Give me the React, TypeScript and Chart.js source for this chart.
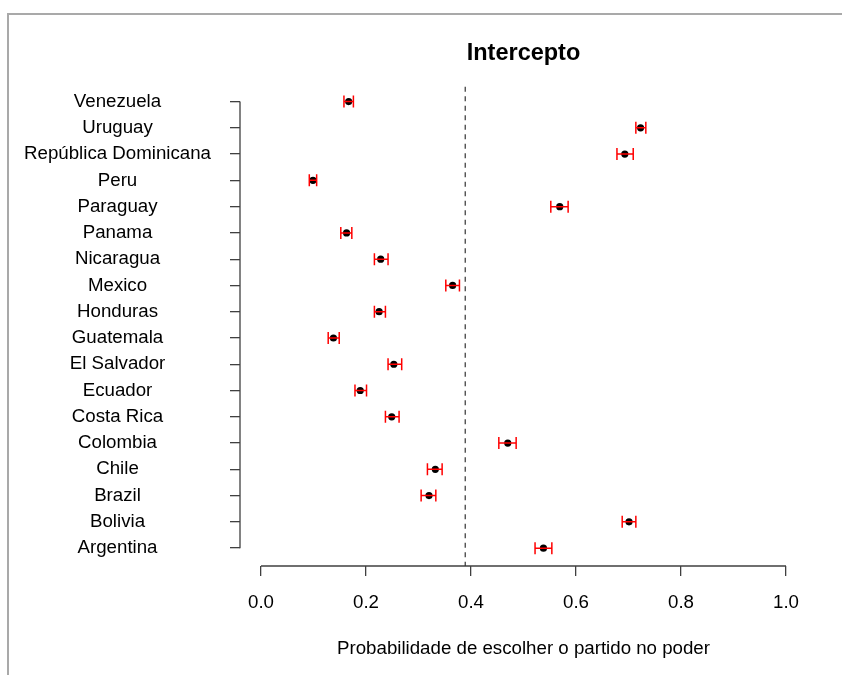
import { useEffect, useRef } from "react";
import { Chart, registerables } from "chart.js";

Chart.register(...registerables);

// Countries, listed from the top row to the bottom row
const countries = [
  "Venezuela",
  "Uruguay",
  "República Dominicana",
  "Peru",
  "Paraguay",
  "Panama",
  "Nicaragua",
  "Mexico",
  "Honduras",
  "Guatemala",
  "El Salvador",
  "Ecuador",
  "Costa Rica",
  "Colombia",
  "Chile",
  "Brazil",
  "Bolivia",
  "Argentina",
];

// Point estimates of the intercept probability
const estimates = [
  0.167, 0.723, 0.693, 0.099, 0.569, 0.163, 0.228, 0.365, 0.225, 0.138, 0.253,
  0.189, 0.249, 0.47, 0.332, 0.32, 0.701, 0.538,
];

// Lower / upper bounds of the intervals
const lower = [
  0.158, 0.714, 0.678, 0.092, 0.552, 0.152, 0.216, 0.352, 0.216, 0.128, 0.242,
  0.179, 0.237, 0.453, 0.317, 0.305, 0.688, 0.522,
];
const upper = [
  0.176, 0.733, 0.709, 0.106, 0.585, 0.173, 0.242, 0.378, 0.237, 0.149, 0.268,
  0.201, 0.263, 0.486, 0.345, 0.333, 0.714, 0.554,
];

// Overall reference probability (dashed vertical line)
const referenceValue = 0.389;

const xTicks = [0, 0.2, 0.4, 0.6, 0.8, 1.0];

const FONT = "'Liberation Sans', Arial, sans-serif";
const AXIS_COLOR = "#404040";

const decorPlugin = {
  id: "decor",
  beforeDraw(chart: any) {
    const ctx = chart.ctx;
    ctx.save();
    ctx.fillStyle = "#ffffff";
    ctx.fillRect(0, 0, chart.width, chart.height);
    // outer frame
    ctx.fillStyle = "#a9a9a9";
    ctx.fillRect(7, 13, chart.width - 7, 2);
    ctx.fillRect(7, 13, 2, chart.height - 13);
    ctx.restore();
  },
  beforeDatasetsDraw(chart: any) {
    const ctx = chart.ctx;
    const xs = chart.scales.x;
    const ys = chart.scales.y;
    const area = chart.chartArea;
    ctx.save();
    // axis spines, spanning only the tick range
    ctx.strokeStyle = AXIS_COLOR;
    ctx.lineWidth = 1.3;
    ctx.beginPath();
    ctx.moveTo(xs.getPixelForValue(xTicks[0]), area.bottom);
    ctx.lineTo(xs.getPixelForValue(xTicks[xTicks.length - 1]), area.bottom);
    ctx.moveTo(area.left, ys.getPixelForValue(0));
    ctx.lineTo(area.left, ys.getPixelForValue(countries.length - 1));
    ctx.stroke();
    // dashed reference line
    const rx = xs.getPixelForValue(referenceValue);
    ctx.strokeStyle = "#333333";
    ctx.lineWidth = 1.2;
    ctx.setLineDash([5, 4.5]);
    ctx.beginPath();
    ctx.moveTo(rx, area.top + 3);
    ctx.lineTo(rx, area.bottom);
    ctx.stroke();
    ctx.restore();
  },
  afterDatasetsDraw(chart: any) {
    const ctx = chart.ctx;
    const xs = chart.scales.x;
    const ys = chart.scales.y;
    ctx.save();
    ctx.strokeStyle = "#ff0000";
    ctx.lineWidth = 1.5;
    const cap = 6;
    countries.forEach((_, i) => {
      const y = ys.getPixelForValue(i);
      const x0 = xs.getPixelForValue(lower[i]);
      const x1 = xs.getPixelForValue(upper[i]);
      ctx.beginPath();
      ctx.moveTo(x0, y);
      ctx.lineTo(x1, y);
      ctx.moveTo(x0, y - cap);
      ctx.lineTo(x0, y + cap);
      ctx.moveTo(x1, y - cap);
      ctx.lineTo(x1, y + cap);
      ctx.stroke();
    });
    ctx.restore();
  },
};

export default function App() {
  const canvasRef = useRef<HTMLCanvasElement>(null);

  useEffect(() => {
    const canvas = canvasRef.current;
    if (!canvas) return;
    const chart = new Chart(canvas, {
      type: "scatter",
      data: {
        datasets: [
          {
            data: estimates.map((v, i) => ({ x: v, y: i })),
            backgroundColor: "#000000",
            borderWidth: 0,
            pointRadius: 3.6,
            pointHoverRadius: 3.6,
          },
        ],
      },
      options: {
        animation: false,
        responsive: false,
        events: [],
        layout: { padding: { left: 0, right: 35, top: 0, bottom: 0 } },
        plugins: {
          legend: { display: false },
          tooltip: { enabled: false },
          title: {
            display: true,
            text: "Intercepto",
            fullSize: false,
            color: "#000000",
            font: { family: FONT, size: 23.5, weight: "bold" },
            padding: { top: 39.5, bottom: 16 },
          },
        },
        scales: {
          x: {
            type: "linear",
            min: -0.04,
            max: 1.04,
            afterBuildTicks: (scale: any) => {
              scale.ticks = xTicks.map((v) => ({ value: v }));
            },
            afterFit: (scale: any) => {
              scale.height = 109;
            },
            grid: {
              display: true,
              drawOnChartArea: false,
              drawTicks: true,
              tickLength: 10,
              color: AXIS_COLOR,
              lineWidth: 1.3,
            },
            border: { display: false },
            ticks: {
              padding: 16,
              color: "#000000",
              font: { family: FONT, size: 18.7 },
              maxRotation: 0,
              autoSkip: false,
              callback: (v: any) => Number(v).toFixed(1),
            },
            title: {
              display: true,
              text: "Probabilidade de escolher o partido no poder",
              color: "#000000",
              font: { family: FONT, size: 18.7 },
              padding: { top: 0, bottom: 15 },
            },
          },
          y: {
            type: "linear",
            reverse: true,
            min: -0.68,
            max: countries.length - 1 + 0.68,
            afterBuildTicks: (scale: any) => {
              scale.ticks = countries.map((_, i) => ({ value: i }));
            },
            afterFit: (scale: any) => {
              scale.width = 240;
            },
            grid: {
              display: true,
              drawOnChartArea: false,
              drawTicks: true,
              tickLength: 10,
              color: AXIS_COLOR,
              lineWidth: 1.3,
            },
            border: { display: false },
            ticks: {
              padding: 19,
              crossAlign: "center",
              color: "#000000",
              autoSkip: false,
              font: { family: FONT, size: 18.7 },
              callback: (v: any) => countries[Math.round(Number(v))] ?? "",
            },
          },
        },
      },
      plugins: [decorPlugin],
    });
    return () => chart.destroy();
  }, []);

  return (
    <div style={{ position: "absolute", left: 0, top: 0, width: 842, height: 675 }}>
      <canvas ref={canvasRef} width={842} height={675} style={{ display: "block" }} />
    </div>
  );
}
